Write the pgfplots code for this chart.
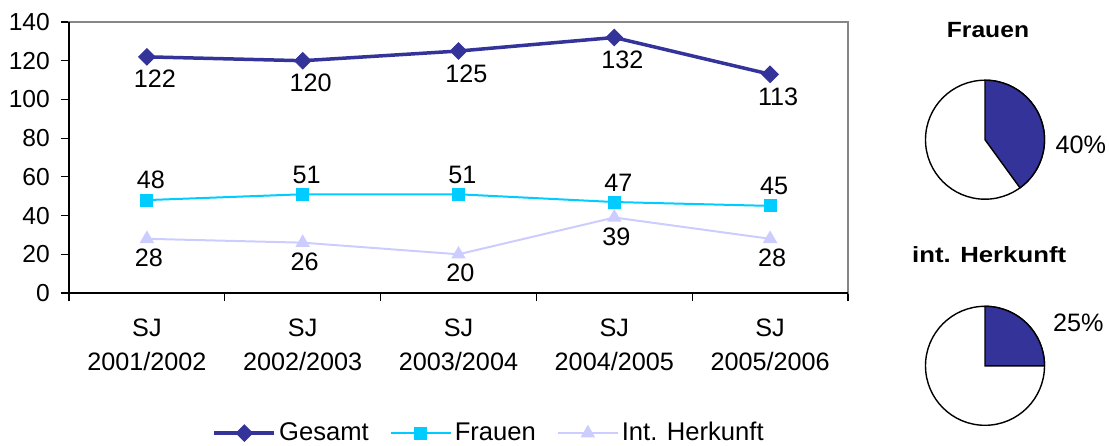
\documentclass[border=0pt]{standalone}
\usepackage{fontspec}
\setmainfont{Liberation Sans}
\usepackage{graphicx}
\usepackage{pgfplots}
\pgfplotsset{compat=1.18}

\definecolor{gesamt}{HTML}{333399}
\definecolor{frauen}{HTML}{00CCFF}
\definecolor{herkunft}{HTML}{CCCCFF}
\definecolor{rahmen}{HTML}{868686}

\pgfplotsset{
  /pgf/number format/assume math mode=true,
  pie/.style={
    scale only axis, width=59.5pt, height=59.5pt,
    xmin=-1, xmax=1, ymin=-1, ymax=1,
    hide axis, clip=false, anchor=center,
  },
}

\begin{document}
\fontsize{12.6}{15}\selectfont
\begin{tikzpicture}
\useasboundingbox (-34.5pt,-76pt) rectangle (520pt,146.5pt);

\begin{axis}[
    at={(0pt,0pt)}, anchor=south west,
    scale only axis, width=389.5pt, height=135.5pt,
    xmin=-0.5, xmax=4.5, ymin=0, ymax=140,
    ytick={0,20,...,140},
    xtick={-0.5,0.5,1.5,2.5,3.5,4.5},
    xticklabels={,,,,,},
    extra x ticks={0,1,2,3,4},
    extra x tick labels={{SJ\\2001/2002},{SJ\\2002/2003},{SJ\\2003/2004},{SJ\\2004/2005},{SJ\\2005/2006}},
    extra x tick style={major tick length=0pt,
      xticklabel style={align=center, font=\fontsize{12.6}{17}\selectfont, yshift=-8.5pt}},
    tick align=outside, tick pos=left, major tick length=4pt,
    tick style={black, line width=0.6pt},
    yticklabel style={xshift=-1.2pt, font=\fontsize{12.3}{15}\selectfont},
    axis line style={draw=rahmen, line width=0.6pt},
    clip=false,
    nodes near coords,
    every node near coord/.append style={inner sep=0pt, font=\fontsize{12.6}{15}\selectfont, black},
    legend style={at={(axis description cs:0.540,-0.517)}, anchor=center,
      draw=none, legend columns=3, font=\fontsize{12.8}{15}\selectfont,
      nodes={inner xsep=1.5pt},
      /tikz/every even column/.append style={column sep=9pt}},
    legend image code/.code={\draw[mark repeat=2,mark phase=2,#1]
      plot coordinates {(0pt,0pt) (15pt,0pt) (30pt,0pt)};},
]
\addplot[gesamt, line width=1.75pt, mark=square*, mark size=2.9pt,
  mark options={fill=gesamt, draw=gesamt, rotate=45, line width=0.5pt},
  every node near coord/.append style={anchor=north, yshift=-6.5pt, xshift=4pt}]
  coordinates {(0,122) (1,120) (2,125) (3,132) (4,113)};
\addplot[frauen, line width=1pt, mark=square*, mark size=2.75pt,
  mark options={fill=frauen, draw=frauen},
  every node near coord/.append style={anchor=south, yshift=5pt, xshift=2pt}]
  coordinates {(0,48) (1,51) (2,51) (3,47) (4,45)};
\addplot[herkunft, line width=1pt, mark=triangle*, mark size=3.2pt,
  mark options={fill=herkunft, draw=herkunft},
  every node near coord/.append style={anchor=north, yshift=-4.5pt, xshift=1pt}]
  coordinates {(0,28) (1,26) (2,20) (3,39) (4,28)};
\legend{Gesamt, Frauen, Int. Herkunft}
\draw[black, line width=0.6pt] (rel axis cs:0,1) -- (rel axis cs:0,0) -- (rel axis cs:1,0);
\end{axis}

% Frauen share
\begin{axis}[pie, at={(458pt,76.65pt)}]
\filldraw[fill=white, draw=black, line width=0.7pt] (axis cs:0,0) circle[radius=29.75pt];
\filldraw[fill=gesamt, draw=black, line width=0.7pt] (axis cs:0,0) -- (axis cs:0,1)
  arc[start angle=90, end angle={90-3.6*40}, radius=29.75pt] -- cycle;
\node at (axis cs:0.05,1.84) {\fontsize{11}{13}\selectfont\bfseries\scalebox{1.12}[1]{Frauen}};
\node at (axis cs:1.61,-0.09) {40\%};
\end{axis}

% int. Herkunft share
\begin{axis}[pie, at={(458pt,-36.4pt)}]
\filldraw[fill=white, draw=black, line width=0.7pt] (axis cs:0,0) circle[radius=29.75pt];
\filldraw[fill=gesamt, draw=black, line width=0.7pt] (axis cs:0,0) -- (axis cs:0,1)
  arc[start angle=90, end angle={90-3.6*25}, radius=29.75pt] -- cycle;
\node at (axis cs:0.07,1.86) {\fontsize{11}{13}\selectfont\bfseries\scalebox{1.17}[1]{int. Herkunft}};
\node at (axis cs:1.57,0.72) {25\%};
\end{axis}
\end{tikzpicture}
\end{document}
